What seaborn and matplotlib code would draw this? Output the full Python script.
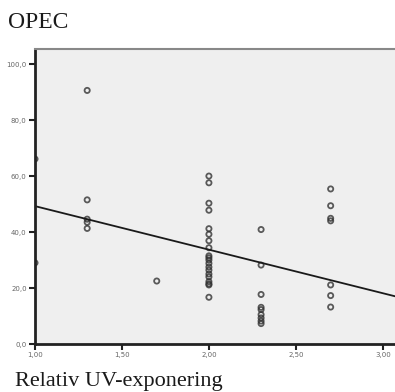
import numpy as np
import pandas as pd
import matplotlib
matplotlib.use("Agg")
import matplotlib.pyplot as plt
import seaborn as sns

# Data
x_10 = [1.0, 1.0]
y_10 = [66.1, 29.0]
x_13 = [1.3] * 5
y_13 = [90.6, 51.5, 44.6, 43.5, 41.3]
x_17 = [1.7]
y_17 = [22.5]
x_20 = [2.0] * 20
y_20 = [60.0, 57.6, 50.3, 47.8, 41.2, 39.2, 36.9, 34.4, 31.5, 30.8,
        30.0, 28.8, 27.5, 26.4, 25.0, 24.0, 22.3, 21.5, 21.1, 16.7]
x_23 = [2.3] * 9
y_23 = [40.9, 28.2, 17.7, 13.1, 12.3, 10.5, 9.3, 8.2, 7.3]
x_27 = [2.7] * 7
y_27 = [55.4, 49.4, 44.9, 44.0, 21.1, 17.3, 13.2]

x_ticks = [1.0, 1.5, 2.0, 2.5, 3.0]
x_ticklabels = ["1,00", "1,50", "2,00", "2,50", "3,00"]
y_ticks = [0, 20, 40, 60, 80, 100]
y_ticklabels = ["0,0", "20,0", "40,0", "60,0", "80,0", "100,0"]

df = pd.DataFrame({
    "x": x_10 + x_13 + x_17 + x_20 + x_23 + x_27,
    "y": y_10 + y_13 + y_17 + y_20 + y_23 + y_27,
})

sns.set_style("white")
fig = plt.figure(figsize=(3.95, 3.92), dpi=100)
ax = fig.add_axes([35 / 395, 48 / 392, 1 - 35 / 395, 295 / 392])
ax.set_facecolor("#efefef")
ax.set_xlim(1.0, 3.07)
ax.set_ylim(0, 105.4)

sns.regplot(data=df, x="x", y="y", ax=ax, ci=None, truncate=False,
            scatter_kws=dict(s=14, facecolors="none", edgecolors="#333333",
                             linewidths=1.3),
            line_kws=dict(color="#1a1a1a", linewidth=1.3))

ax.set_xticks(x_ticks)
ax.set_xticklabels(x_ticklabels)
ax.set_yticks(y_ticks)
ax.set_yticklabels(y_ticklabels)
ax.tick_params(axis="both", direction="out", length=4, width=1.5,
               color="#222222", labelsize=5, labelcolor="#666666", pad=2)
ax.tick_params(axis="x", bottom=True)
ax.tick_params(axis="y", left=True)
ax.set_xlabel("")
ax.set_ylabel("")

for s in ["left", "bottom"]:
    ax.spines[s].set_linewidth(2.0)
    ax.spines[s].set_color("#222222")
ax.spines["top"].set_linewidth(1.5)
ax.spines["top"].set_color("#888888")
ax.spines["right"].set_visible(False)

fig.text(8 / 395, 1 - 28 / 392, "OPEC", family="Liberation Serif",
         fontsize=17, va="baseline", ha="left", color="#1a1a1a")
fig.text(15 / 395, 1 - 386 / 392, "Relativ UV-exponering",
         family="Liberation Serif", fontsize=16, va="baseline", ha="left",
         color="#1a1a1a")

fig.savefig("out.png", dpi=100)
